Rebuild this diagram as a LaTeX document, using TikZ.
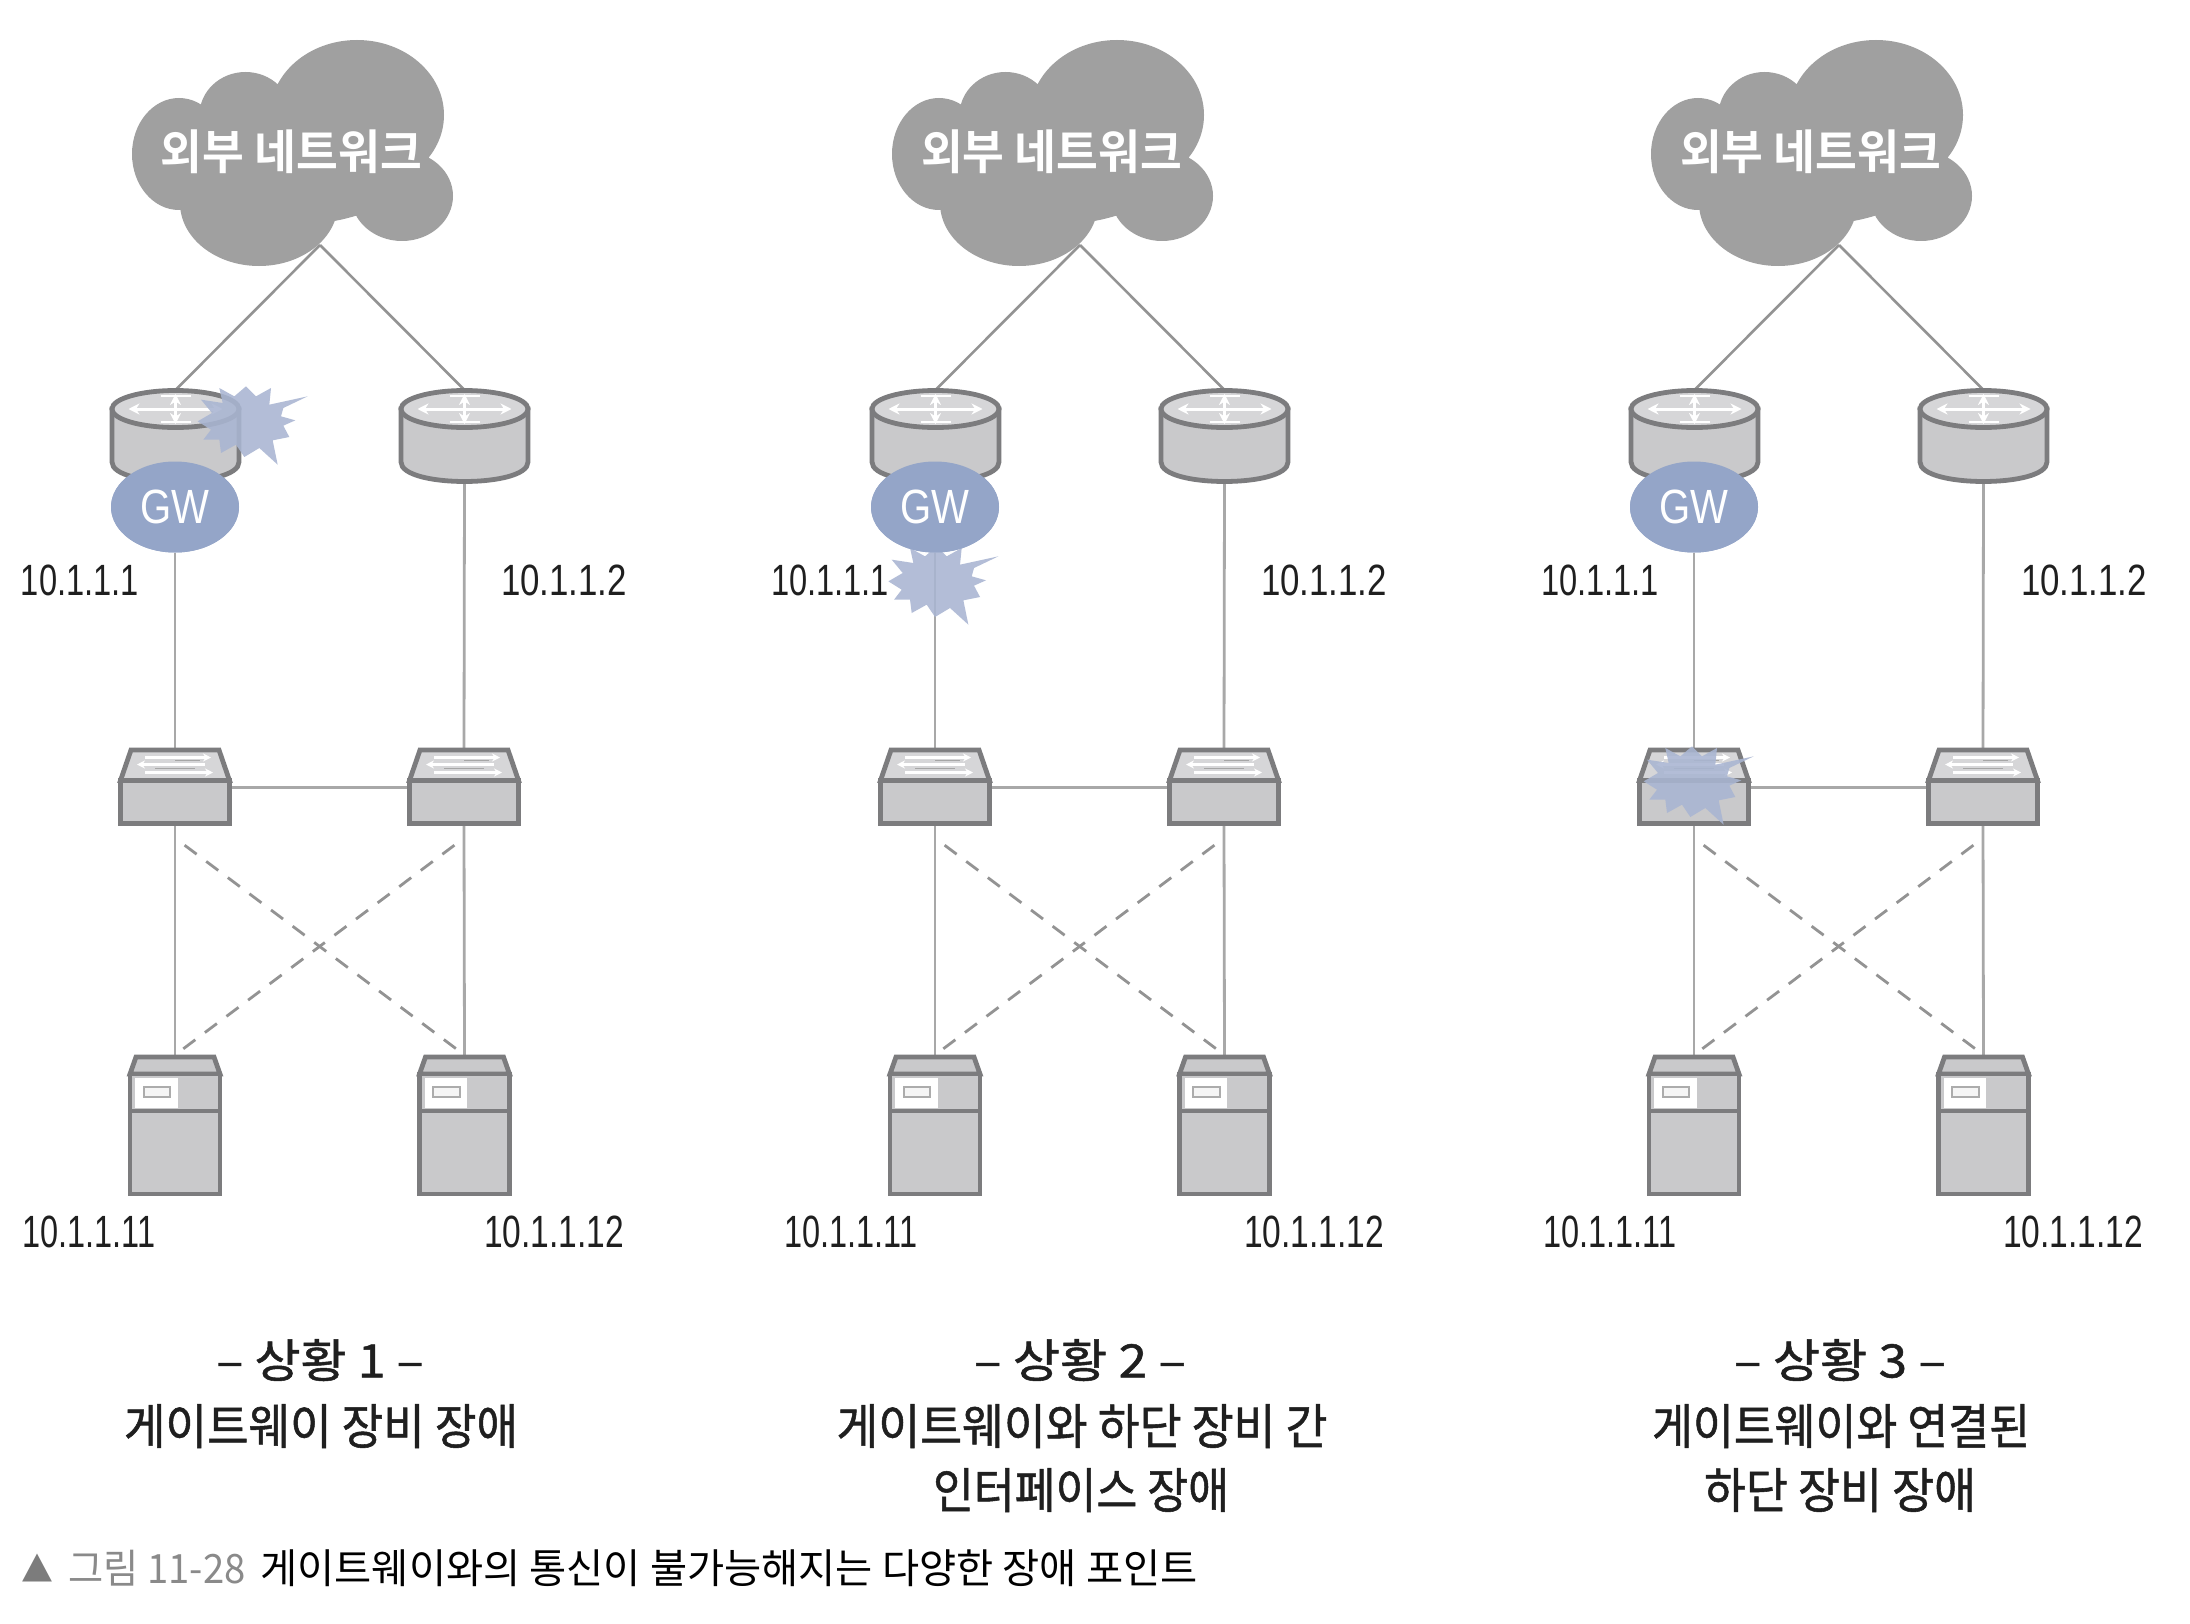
\documentclass[tikz,border=0pt]{standalone}
\usepackage{graphicx}
\usepackage{fontspec}
\setmainfont{Liberation Sans}
\newfontfamily\kr{Noto Sans CJK KR}
\newfontfamily\krm[FakeBold=1.1]{Noto Sans CJK KR}
\newfontfamily\krb{Noto Sans CJK KR Bold}
\newfontfamily\djv{DejaVu Sans}
\usetikzlibrary{arrows.meta,shapes.geometric}
\definecolor{cloudc}{HTML}{A0A0A0}
\definecolor{devline}{HTML}{7C7C7E}
\definecolor{devfill}{HTML}{C9C9CB}
\definecolor{devtop}{HTML}{D6D6D8}
\definecolor{gwc}{HTML}{94A5C8}
\definecolor{burstc}{HTML}{A9B5D2}
\definecolor{linkc}{HTML}{A8A8A8}
\definecolor{capgray}{HTML}{8A8A8A}
\newcommand\fitbox[3]{\resizebox*{#1pt}{#2pt}{#3}}
\tikzset{
  hit/.style={inner sep=0pt,outer sep=0pt,draw=none,rectangle},
  txt/.style={inner sep=0pt,outer sep=0pt,text=black!88},
  devbody/.style={draw=devline,fill=devfill,line width=4.8pt,line join=miter},
  wire/.style={draw=linkc,line width=2.8pt},
  upwire/.style={draw=gray!85,line width=2.6pt},
  dashwire/.style={draw=gray!85,line width=2.8pt,dash pattern=on 15pt off 12pt,dash phase=15pt},
  whitearrow/.style={draw=white,line width=3pt,{Stealth[length=11pt,width=11pt]}-{Stealth[length=11pt,width=11pt]}},
  burstfill/.style={fill=burstc,opacity=.88},
  gwnode/.style={ellipse,fill=gwc,minimum width=128pt,minimum height=91pt,inner sep=0pt,outer sep=0pt,text=white},
}
\newcommand\rtr[2]{%
  \begin{scope}[shift={(#1,#2)}]
    \path[devbody] (-63.5,-26) -- (-63.5,27) .. controls (-63.5,53) and (63.5,53) .. (63.5,27) -- (63.5,-26) -- cycle;
    \path[devbody,fill=devtop] (0,-26) ellipse [x radius=63.5,y radius=18.5];
    \draw[whitearrow] (-47,-26) -- (47,-26);
    \draw[whitearrow,line width=2.6pt] (0,-41) -- (0,-11);
    \draw[white,line width=2.4pt] (-15,-39) -- (15,-39) (-15,-13) -- (15,-13);
  \end{scope}}
\newcommand\swt[2]{%
  \begin{scope}[shift={(#1,#2)}]
    \path[devbody,fill=devtop] (-44,-37.5) -- (44,-37.5) -- (54.5,-7) -- (-54.5,-7) -- cycle;
    \path[devbody] (-54.5,-7) rectangle (54.5,36);
    \draw[white,line width=2.2pt,-{Stealth[length=8pt,width=8pt]}] (-30,-30) -- (36,-30);
    \draw[white,line width=2.2pt,{Stealth[length=8pt,width=8pt]}-] (-38,-23) -- (30,-23);
    \draw[white,line width=2.2pt,-{Stealth[length=8pt,width=8pt]}] (-30,-15) -- (38,-15);
    \draw[gray!70,line width=1.6pt] (0,-27) -- (25,-27) (-20,-19) -- (20,-19);
  \end{scope}}
\newcommand\srv[2]{%
  \begin{scope}[shift={(#1,#2)}]
    \path[devbody] (-39,-67) -- (39,-67) -- (45,-50) -- (-45,-50) -- cycle;
    \path[devbody] (-45,-50) rectangle (45,70);
    \fill[white] (-40,-46) rectangle (2.5,-16);
    \draw[gray!65,fill=white!92!gray,line width=2pt] (-31.5,-37) rectangle (-5,-27);
    \draw[devline,line width=4.8pt] (-45,-13) -- (45,-13);
  \end{scope}}
\newcommand\burst[2]{%
  \fill[burstfill,shift={(#1,#2)},scale=0.3333]
   (185,-80) -- (112,-45) -- (105,-20) -- (148,-8) -- (112,8) -- (130,42) -- (80,52) -- (95,125)
   -- (40,75) -- (-5,102) -- (-30,65) -- (-75,90) -- (-80,50) -- (-128,50) -- (-105,20) -- (-145,-5)
   -- (-102,-30) -- (-135,-70) -- (-70,-60) -- (-80,-105) -- (-35,-80) -- (0,-110) -- (30,-80)
   -- (75,-105) -- (70,-55) -- cycle;}
\newcommand\panel[3]{%
  \begin{scope}[shift={(#2,0)}]
    \fill[cloudc] (357,115) ellipse [x radius=87,y radius=75]
       (245.5,115) ellipse [x radius=46,y radius=43]
       (179,154) ellipse [x radius=47,y radius=56]
       (259,203) ellipse [x radius=79,y radius=63]
       (402,196) ellipse [x radius=51,y radius=45]
       (290,158) ellipse [x radius=130,y radius=67];
    \node[inner sep=0pt,text=white] (cloud#1) at (291.5,152) {\fitbox{261}{44}{\krb 외부 네트워크}};
    \coordinate (apex#1) at (320,245);
    \node[hit,minimum width=129pt,minimum height=90pt] (ra#1) at (175.5,435) {};
    \node[hit,minimum width=129pt,minimum height=90pt] (rb#1) at (464.5,435) {};
    \node[hit,minimum width=111pt,minimum height=75pt] (sa#1) at (175,787.5) {};
    \node[hit,minimum width=111pt,minimum height=75pt] (sb#1) at (464,787.5) {};
    \node[hit,minimum width=92pt,minimum height=138pt] (va#1) at (175,1124) {};
    \node[hit,minimum width=92pt,minimum height=138pt] (vb#1) at (464.5,1124) {};
    \node[gwnode] (gw#1) at (175,507) {};
    \coordinate (da#1) at (175,838);
    \coordinate (db#1) at (464,838);
    \draw[upwire] (apex#1) -- (ra#1.north);
    \draw[upwire] (apex#1) -- (rb#1.north);
    \draw[wire] (gw#1.south) -- (sa#1.north);
    \draw[wire] (rb#1.south) -- (sb#1.north);
    \draw[wire] (sa#1.south) -- (va#1.north);
    \draw[wire] (sb#1.south) -- (vb#1.north);
    \draw[wire] (sa#1.east) -- (sb#1.west);
    \draw[dashwire] (da#1) -- (vb#1.north);
    \draw[dashwire] (db#1) -- (va#1.north);
    \rtr{175.5}{435}
    \rtr{464.5}{435}
    \swt{175}{787.5}
    \swt{464}{787.5}
    \srv{175}{1124}
    \srv{464.5}{1124}
    #3
    \node[gwnode] (gwlabel#1) at (175,507) {\fitbox{69}{34}{GW}};
  \end{scope}}
\begin{document}
\begin{tikzpicture}[x=1pt,y=-1pt]
\useasboundingbox (0,0) rectangle (2190,1624);
\fill[white] (0,0) rectangle (2190,1624);
\panel{A}{0}{\burst{246}{423}}
\panel{B}{760}{\burst{176.7}{583}}
\panel{C}{1519}{\burst{173}{783}}
% address labels
\node[txt] (la1) at (80,580) {\fitbox{118}{31}{10.1.1.1}};
\node[txt] (la2) at (564,580) {\fitbox{126}{31}{10.1.1.2}};
\node[txt] (la3) at (89,1232) {\fitbox{133}{32}{10.1.1.11}};
\node[txt] (la4) at (554,1232) {\fitbox{140}{32}{10.1.1.12}};
\node[txt] (lb1) at (830,580) {\fitbox{118}{31}{10.1.1.1}};
\node[txt] (lb2) at (1324,580) {\fitbox{126}{31}{10.1.1.2}};
\node[txt] (lb3) at (851,1232) {\fitbox{133}{32}{10.1.1.11}};
\node[txt] (lb4) at (1314,1232) {\fitbox{140}{32}{10.1.1.12}};
\node[txt] (lc1) at (1600,580) {\fitbox{118}{31}{10.1.1.1}};
\node[txt] (lc2) at (2084,580) {\fitbox{126}{31}{10.1.1.2}};
\node[txt] (lc3) at (1610,1232) {\fitbox{133}{32}{10.1.1.11}};
\node[txt] (lc4) at (2073,1232) {\fitbox{140}{32}{10.1.1.12}};
% titles
\node[txt] (ta1) at (320,1360) {\fitbox{207}{42}{\krm – 상황 1 –}};
\node[txt] (ta2) at (321,1426) {\fitbox{394}{44}{\krm 게이트웨이 장비 장애}};
\node[txt] (tb1) at (1080,1360) {\fitbox{212}{42}{\krm – 상황 2 –}};
\node[txt] (tb2) at (1082,1426) {\fitbox{491}{44}{\krm 게이트웨이와 하단 장비 간}};
\node[txt] (tb3) at (1081,1490) {\fitbox{296}{44}{\krm 인터페이스 장애}};
\node[txt] (tc1) at (1840,1360) {\fitbox{212}{42}{\krm – 상황 3 –}};
\node[txt] (tc2) at (1841,1426) {\fitbox{378}{44}{\krm 게이트웨이와 연결된}};
\node[txt] (tc3) at (1840,1490) {\fitbox{272}{44}{\krm 하단 장비 장애}};
% caption
\node[txt,text=capgray!90!black] (capmark) at (38,1568) {\fitbox{30}{28}{\djv ▲}};
\node[txt,text=capgray] (capnum) at (157,1568) {\fitbox{177}{36}{\kr 그림 11-28}};
\node[txt,text=black] (captxt) at (729,1568) {\fitbox{937}{37}{\kr 게이트웨이와의 통신이 불가능해지는 다양한 장애 포인트}};
\end{tikzpicture}
\end{document}
